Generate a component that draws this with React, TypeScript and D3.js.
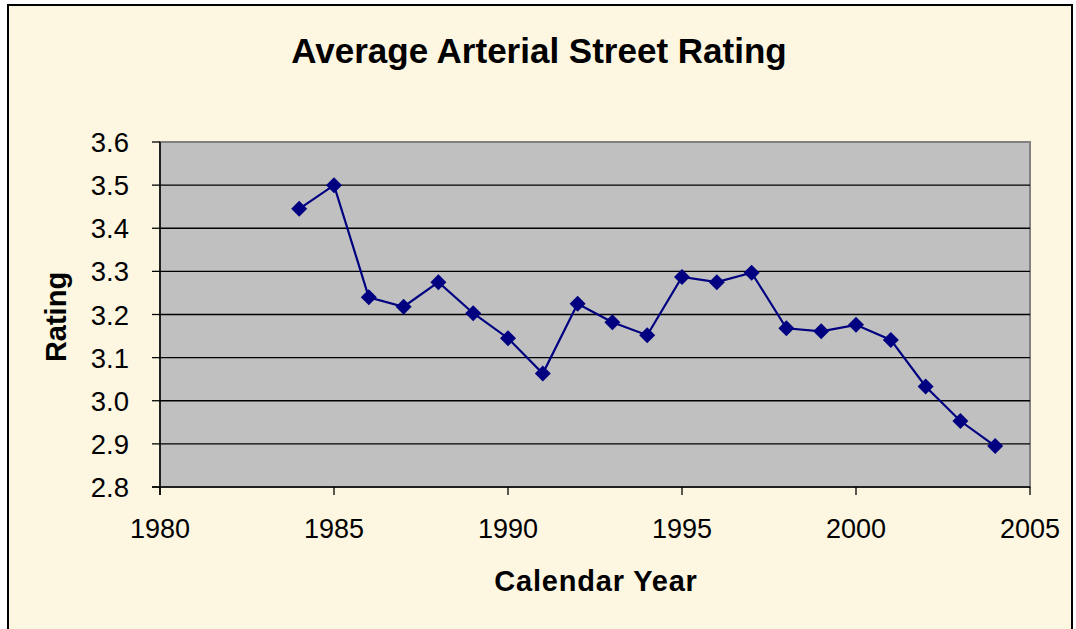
import * as React from "react";
import * as d3 from "d3";

const years = [1984, 1985, 1986, 1987, 1988, 1989, 1990, 1991, 1992, 1993, 1994,
  1995, 1996, 1997, 1998, 1999, 2000, 2001, 2002, 2003, 2004];
const ratings = [3.445, 3.5, 3.24, 3.218, 3.275, 3.203, 3.145, 3.063, 3.225, 3.182, 3.152,
  3.287, 3.275, 3.297, 3.168, 3.161, 3.176, 3.141, 3.033, 2.953, 2.895];
const xTicks = [1980, 1985, 1990, 1995, 2000, 2005];
const yTicks = [2.8, 2.9, 3.0, 3.1, 3.2, 3.3, 3.4, 3.5, 3.6];

const W = 1076;
const H = 629;
const left = 160, right = 1030, top = 142, bottom = 487;
const font = "Arial, 'Liberation Sans', sans-serif";

export default function App() {
  const x = d3.scaleLinear().domain([1980, 2005]).range([left, right]);
  const y = d3.scaleLinear().domain([2.8, 3.6]).range([bottom, top]);
  const line = d3.line<number>().x((_, i) => x(years[i])).y((d) => y(d));

  return (
    <svg width={W} height={H} style={{ position: "absolute", left: 0, top: 0 }}>
      <rect x={0} y={0} width={W} height={H} fill="#fff" />
      <rect x={8} y={5} width={1064} height={640} fill="#FDF7E1" stroke="#000" strokeWidth={2} />
      <text x={539} y={63} textAnchor="middle" fontFamily={font} fontWeight="bold" fontSize={35}>
        Average Arterial Street Rating
      </text>
      <rect x={left} y={top} width={right - left} height={bottom - top} fill="#C0C0C0" stroke="#808080" strokeWidth={2} />
      {yTicks.slice(1, -1).map((t) => (
        <line key={t} x1={left} x2={right} y1={y(t)} y2={y(t)} stroke="#000" strokeWidth={1.3} />
      ))}
      <line x1={left} x2={left} y1={top} y2={bottom + 8} stroke="#000" strokeWidth={1.5} />
      <line x1={left - 8} x2={right} y1={bottom} y2={bottom} stroke="#000" strokeWidth={1.5} />
      {yTicks.map((t) => (
        <g key={t}>
          <line x1={left - 8} x2={left} y1={y(t)} y2={y(t)} stroke="#000" strokeWidth={1.3} />
          <text x={129} y={y(t) + 10} textAnchor="end" fontFamily={font} fontSize={27.5}>
            {t.toFixed(1)}
          </text>
        </g>
      ))}
      {xTicks.map((t) => (
        <g key={t}>
          <line x1={x(t)} x2={x(t)} y1={bottom} y2={bottom + 8} stroke="#000" strokeWidth={1.3} />
          <text x={x(t)} y={538} textAnchor="middle" fontFamily={font} fontSize={27}>
            {t}
          </text>
        </g>
      ))}
      <text transform="translate(66,317) rotate(-90)" textAnchor="middle" fontFamily={font} fontWeight="bold" fontSize={29}>
        Rating
      </text>
      <text x={596} y={591} textAnchor="middle" fontFamily={font} fontWeight="bold" fontSize={29} letterSpacing={0.8}>
        Calendar Year
      </text>
      <path d={line(ratings) || ""} fill="none" stroke="#000080" strokeWidth={2.2} />
      {ratings.map((r, i) => (
        <path key={i} d="M0,-8L8,0L0,8L-8,0Z" transform={`translate(${x(years[i])},${y(r)})`} fill="#000080" />
      ))}
    </svg>
  );
}
